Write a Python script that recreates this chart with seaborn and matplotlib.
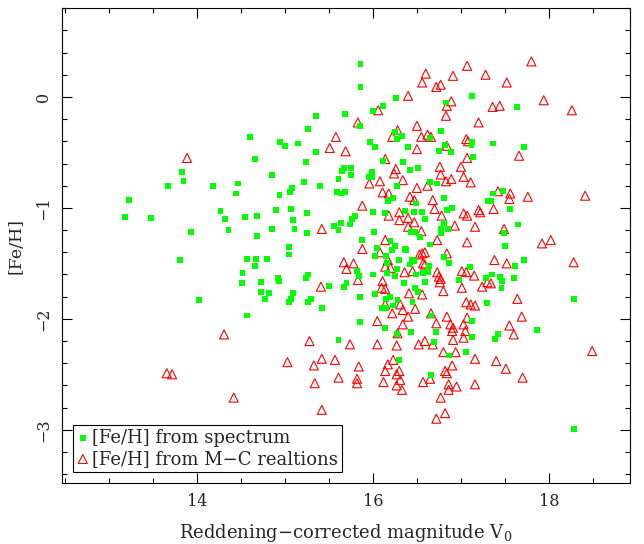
import numpy as np
import pandas as pd
import matplotlib
matplotlib.use("Agg")
import matplotlib.pyplot as plt
import seaborn as sns
from matplotlib.ticker import MultipleLocator

# [Fe/H] from spectrum (green squares): V0, [Fe/H]
spec_v0 = [13.83, 13.85, 13.67, 14.18, 14.47, 14.60, 15.86, 15.86, 15.35, 15.68,
           15.85, 15.26, 14.95, 15.00, 15.15, 15.35, 15.97, 14.66, 15.24, 15.67,
           15.75, 15.65, 15.75, 15.61, 14.85, 15.22, 15.40, 15.08, 15.95, 16.26,
           17.13, 16.11, 16.00, 16.83, 16.77, 16.25, 16.33, 16.27, 16.65, 16.02,
           16.40, 16.82, 16.75, 16.89, 17.13, 17.12, 17.14, 16.11, 16.34, 16.51,
           16.42, 15.99, 15.99, 16.65, 16.73, 16.27, 17.64, 17.36, 17.72,
           13.23, 13.19, 13.48, 14.45, 14.27, 14.32, 14.55, 14.36, 13.93, 13.81,
           14.57, 14.52, 14.51, 14.03, 14.57,
           14.94, 15.06, 15.59, 15.64, 15.68, 14.68, 14.90, 15.07, 15.25, 15.09,
           15.80, 15.76, 15.64, 15.56, 15.74, 15.61, 14.85, 15.11, 15.25, 14.68,
           15.88, 15.05, 15.05, 14.67, 14.80, 14.66, 15.82, 15.84, 15.26, 15.24,
           14.92, 14.93, 14.73, 15.70, 15.67, 15.50, 14.73, 14.82, 15.09, 14.77,
           15.07, 15.05, 15.30, 15.26, 15.42, 15.85, 15.85,
           16.23, 16.17, 16.49, 16.81, 16.00, 16.14, 16.36, 16.47, 16.56, 16.59,
           16.84, 16.90, 17.31, 16.81, 16.43, 16.48, 16.53, 16.01, 16.77, 16.85,
           16.77, 16.20, 16.25, 16.22, 16.05, 16.36, 16.38, 16.65, 16.02, 16.15,
           16.30, 16.81, 16.44, 16.47, 16.42, 16.64, 16.86, 16.16, 16.27, 16.57,
           16.63, 17.10, 16.00, 16.16, 16.25, 16.49, 16.59, 16.98, 17.28, 16.35,
           16.48, 16.51, 16.02, 16.15, 16.19, 16.28, 16.45, 17.30, 16.10, 16.15,
           16.23, 16.66, 17.13, 16.14,
           17.36, 17.48, 17.34, 17.56, 17.65, 17.49, 17.50, 17.72, 17.61, 17.35,
           17.44, 17.47, 17.60, 17.46, 18.28, 17.86,
           15.61, 16.27, 16.43, 16.72, 17.13, 16.69, 16.86, 17.06, 16.30, 16.66,
           17.42, 17.39, 18.28]
spec_feh = [-0.68, -0.76, -0.80, -0.80, -0.78, -0.36, 0.30, 0.09, -0.17, -0.15,
            -0.26, -0.29, -0.41, -0.44, -0.42, -0.50, -0.41, -0.56, -0.59, -0.64,
            -0.64, -0.67, -0.70, -0.74, -0.70, -0.77, -0.80, -0.82, -0.72, -0.01,
            0.01, -0.08, -0.13, -0.05, -0.31, -0.32, -0.35, -0.38, -0.37, -0.45,
            -0.45, -0.43, -0.49, -0.50, -0.41, -0.43, -0.54, -0.58, -0.59, -0.64,
            -0.66, -0.68, -0.72, -0.77, -0.78, -0.80, -0.09, -0.42, -0.45,
            -0.93, -1.08, -1.09, -0.87, -1.03, -1.10, -1.08, -1.20, -1.22, -1.47,
            -1.46, -1.59, -1.68, -1.83, -1.97,
            -0.88, -0.86, -0.86, -0.87, -0.86, -1.07, -1.02, -1.01, -1.05, -1.11,
            -1.07, -1.10, -1.14, -1.16, -1.15, -1.20, -1.19, -1.19, -1.23, -1.25,
            -1.29, -1.35, -1.42, -1.46, -1.46, -1.52, -1.57, -1.61, -1.60, -1.63,
            -1.63, -1.66, -1.67, -1.68, -1.71, -1.70, -1.76, -1.77, -1.77, -1.82,
            -1.82, -1.85, -1.82, -1.85, -1.90, -1.80, -2.03,
            -0.91, -0.94, -0.96, -0.91, -1.04, -1.05, -1.03, -1.04, -1.04, -1.10,
            -1.02, -1.00, -0.94, -1.14, -1.22, -1.22, -1.26, -1.22, -1.19, -1.19,
            -1.23, -1.30, -1.34, -1.38, -1.36, -1.37, -1.38, -1.33, -1.43, -1.43,
            -1.47, -1.44, -1.47, -1.48, -1.51, -1.52, -1.50, -1.50, -1.55, -1.59,
            -1.58, -1.53, -1.60, -1.59, -1.61, -1.60, -1.67, -1.65, -1.63, -1.68,
            -1.72, -1.76, -1.78, -1.82, -1.80, -1.83, -1.85, -1.86, -1.90, -1.90,
            -1.88, -1.97, -2.02, -2.08,
            -0.87, -0.85, -0.94, -1.01, -1.15, -1.23, -1.34, -1.47, -1.52, -1.60,
            -1.62, -1.66, -1.63, -1.72, -1.82, -2.10,
            -2.19, -2.14, -2.12, -2.12, -2.16, -2.21, -2.33, -2.30, -2.37, -2.51,
            -2.14, -2.18, -2.99]

# [Fe/H] from M-C relations (red open triangles): V0, [Fe/H]
mc_v0 = [13.89, 15.83, 15.58, 15.51, 15.69, 15.96,
         17.07, 16.60, 16.91, 17.28, 16.56, 16.77, 16.72, 16.40, 16.06, 16.89,
         16.84, 16.83, 17.20, 16.50, 16.28, 16.22, 16.55, 16.62, 16.66, 16.50,
         16.84, 17.06, 17.08, 17.07, 16.14, 16.76, 17.00, 16.26, 16.24, 16.77,
         17.03, 16.08, 16.34, 16.83, 16.89, 17.11, 16.62, 16.50,
         17.80, 17.52, 17.94, 17.36, 17.44, 18.26, 17.66,
         15.88, 15.42, 15.88, 15.67, 15.78, 15.70, 15.83, 15.41,
         16.11, 16.18, 16.42, 16.47, 16.68, 16.18, 16.30, 16.30, 16.40, 16.47,
         16.70, 16.78, 17.03, 17.07, 17.20, 17.22, 16.93, 17.16, 16.40, 16.55,
         16.73, 17.07, 16.14, 16.08, 16.84, 16.56, 16.59, 16.53, 16.17, 16.57,
         16.59, 16.20, 16.14, 16.36, 16.45, 16.73, 17.01, 17.06, 17.15, 16.75,
         16.77, 16.76, 17.24, 17.30, 17.01, 16.11, 16.10, 16.14, 16.41, 16.56,
         16.80, 17.06, 17.11, 17.16, 16.14, 16.31, 16.34, 16.48, 16.22, 16.40,
         16.66, 16.84, 17.07, 16.05, 16.34, 16.72, 16.88, 17.03, 16.91,
         17.42, 17.56, 17.55, 17.76, 18.41, 17.37, 17.49, 17.92, 18.02, 17.38,
         17.52, 18.28, 17.34, 17.64, 17.69, 17.55,
         14.31, 13.66, 13.72, 14.42,
         15.28, 15.74, 15.03, 15.42, 15.57, 15.33, 15.84, 15.61, 15.82, 15.82,
         15.34, 15.42,
         16.28, 16.90, 17.05, 16.91, 17.03, 16.05, 16.27, 16.52, 16.59, 16.68,
         16.80, 16.94, 17.16, 16.23, 16.17, 16.90, 16.14, 16.30, 16.27, 16.82,
         16.84, 16.31, 16.12, 16.65, 16.57, 16.86, 16.95, 17.16, 16.27, 16.33,
         16.86, 16.77, 16.82, 16.72,
         17.60, 18.49, 17.40, 17.51, 17.70]
mc_feh = [-0.55, -0.23, -0.36, -0.46, -0.49, -0.78,
          0.28, 0.21, 0.19, 0.20, 0.13, 0.11, 0.09, 0.01, -0.12, -0.04,
          -0.08, -0.17, -0.23, -0.26, -0.30, -0.36, -0.36, -0.34, -0.36, -0.47,
          -0.44, -0.38, -0.40, -0.55, -0.56, -0.63, -0.63, -0.65, -0.69, -0.70,
          -0.72, -0.76, -0.75, -0.76, -0.74, -0.77, -0.80, -0.82,
          0.32, 0.13, -0.03, -0.09, -0.08, -0.12, -0.53,
          -0.98, -1.19, -1.37, -1.49, -1.50, -1.55, -1.65, -1.71,
          -0.86, -0.87, -0.90, -0.93, -0.93, -1.07, -1.04, -1.11, -1.09, -1.13,
          -1.01, -1.07, -1.05, -1.07, -1.02, -1.04, -1.16, -1.17, -1.17, -1.21,
          -1.29, -1.31, -1.29, -1.40, -1.41, -1.41, -1.40, -1.42, -1.47, -1.50,
          -1.51, -1.54, -1.53, -1.58, -1.57, -1.58, -1.57, -1.58, -1.61, -1.62,
          -1.64, -1.67, -1.71, -1.67, -1.72, -1.66, -1.72, -1.73, -1.77, -1.78,
          -1.75, -1.85, -1.87, -1.88, -1.87, -1.87, -1.92, -1.91, -1.95, -1.98,
          -1.95, -1.98, -1.99, -2.02, -2.05, -2.04, -2.05, -2.05, -2.08,
          -0.85, -0.87, -0.92, -0.90, -0.89, -1.01, -1.19, -1.32, -1.29, -1.47,
          -1.50, -1.49, -1.68, -1.82, -1.98, -2.06,
          -2.14, -2.49, -2.50, -2.71,
          -2.20, -2.23, -2.39, -2.36, -2.37, -2.42, -2.43, -2.53, -2.54, -2.58,
          -2.58, -2.82,
          -2.13, -2.11, -2.11, -2.19, -2.17, -2.23, -2.24, -2.23, -2.20, -2.23,
          -2.30, -2.30, -2.36, -2.37, -2.41, -2.42, -2.47, -2.47, -2.50, -2.47,
          -2.49, -2.55, -2.57, -2.54, -2.57, -2.59, -2.61, -2.59, -2.60, -2.64,
          -2.64, -2.71, -2.85, -2.90,
          -2.14, -2.29, -2.38, -2.45, -2.53]

spec = pd.DataFrame({"V0": spec_v0, "FeH": spec_feh})
mc = pd.DataFrame({"V0": mc_v0, "FeH": mc_feh})

sns.set_style("ticks")
plt.rcParams["font.family"] = ["DejaVu Serif"]
plt.rcParams["mathtext.fontset"] = "dejavuserif"

fig = plt.figure(figsize=(6.44, 5.44), dpi=100)
ax = fig.add_axes([0.0963, 0.112, 0.882, 0.873])

sns.scatterplot(data=mc, x="V0", y="FeH", ax=ax, marker="^", s=42,
                facecolors="none", edgecolor="#ff0000", linewidth=0.8,
                label="[Fe/H] from M\u2212C realtions", zorder=2)
sns.scatterplot(data=spec, x="V0", y="FeH", ax=ax, marker="s", s=18,
                color="#00ff00", edgecolor="none", linewidth=0,
                label="[Fe/H] from spectrum", zorder=3)

ax.set_xlim(12.47, 18.92)
ax.set_ylim(-3.48, 0.8)
ax.xaxis.set_major_locator(MultipleLocator(2))
ax.xaxis.set_minor_locator(MultipleLocator(0.5))
ax.yaxis.set_major_locator(MultipleLocator(1))
ax.yaxis.set_minor_locator(MultipleLocator(0.2))
ax.tick_params(which="both", direction="in", top=True, right=True, color="black")
ax.tick_params(which="major", length=7, width=0.8, labelsize=11.5, pad=7)
ax.tick_params(which="minor", length=3.5, width=0.8)
for lab in ax.get_yticklabels():
    lab.set_rotation(90)
    lab.set_va("center")
for sp in ax.spines.values():
    sp.set_linewidth(0.8)
    sp.set_color("black")

ax.set_xlabel("Reddening\u2212corrected magnitude V$_0$", fontsize=13, labelpad=9)
ax.set_ylabel("[Fe/H]", fontsize=12.5, labelpad=8)

handles, labels = ax.get_legend_handles_labels()
leg = ax.legend(handles[::-1], labels[::-1], loc="lower left", fontsize=13,
                frameon=True, fancybox=False, edgecolor="black", framealpha=1,
                handlelength=0.6, handletextpad=0.2, borderpad=0.25,
                labelspacing=0.15, borderaxespad=0.6)
leg.get_frame().set_linewidth(0.8)

fig.savefig("out.png", dpi=100)
